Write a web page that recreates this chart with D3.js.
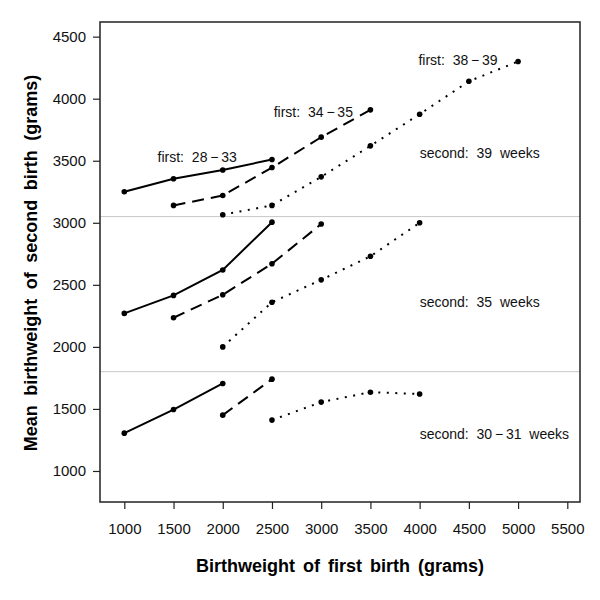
<!DOCTYPE html>
<html><head><meta charset="utf-8">
<script src="https://cdn.jsdelivr.net/npm/d3@7"></script>
<style>body{margin:0;background:#fff}svg{display:block}text{font-family:"Liberation Sans",Arial,Helvetica,sans-serif}</style>
</head><body><svg id="c" width="600" height="600"></svg>
<script>
// Data (grams)
const xTicks = [1000,1500,2000,2500,3000,3500,4000,4500,5000,5500];
const yTicks = [1000,1500,2000,2500,3000,3500,4000,4500];
const firstGroups = ["first: 28\u2009\u2212\u200933","first: 34\u2009\u2212\u200935","first: 38\u2009\u2212\u200939"];
const dashStyles = ["none","12,7","2,6.5"];
// second: 39 weeks
const s39_f2833_x = [1000,1500,2000,2500];
const s39_f2833_y = [3250,3355,3425,3510];
const s39_f3435_x = [1500,2000,2500,3000,3500];
const s39_f3435_y = [3140,3220,3445,3690,3910];
const s39_f3839_x = [2000,2500,3000,3500,4000,4500,5000];
const s39_f3839_y = [3065,3140,3370,3620,3875,4140,4300];
// second: 35 weeks
const s35_f2833_x = [1000,1500,2000,2500];
const s35_f2833_y = [2270,2415,2620,3005];
const s35_f3435_x = [1500,2000,2500,3000];
const s35_f3435_y = [2235,2420,2670,2990];
const s35_f3839_x = [2000,2500,3000,3500,4000];
const s35_f3839_y = [2000,2360,2540,2730,3000];
// second: 30-31 weeks
const s30_f2833_x = [1000,1500,2000];
const s30_f2833_y = [1305,1495,1705];
const s30_f3435_x = [2000,2500];
const s30_f3435_y = [1450,1740];
const s30_f3839_x = [2500,3000,3500,4000];
const s30_f3839_y = [1410,1555,1635,1620];
const separators = [3050,1800];
const secondLabels = ["second: 39 weeks","second: 35 weeks","second: 30\u2009\u2212\u200931 weeks"];
const secondLabelPos = [[4000,3525],[4000,2322],[4000,1258]];
const firstLabelPos = [[1740,3490],[2920,3855],[4390,4272]];

const series = [
  {x:s39_f2833_x,y:s39_f2833_y,g:0},{x:s39_f3435_x,y:s39_f3435_y,g:1},{x:s39_f3839_x,y:s39_f3839_y,g:2},
  {x:s35_f2833_x,y:s35_f2833_y,g:0},{x:s35_f3435_x,y:s35_f3435_y,g:1},{x:s35_f3839_x,y:s35_f3839_y,g:2},
  {x:s30_f2833_x,y:s30_f2833_y,g:0},{x:s30_f3435_x,y:s30_f3435_y,g:1},{x:s30_f3839_x,y:s30_f3839_y,g:2}
];

const svg = d3.select("#c");
const L=100,R=580,T=22,B=502;
const x = d3.scaleLinear().domain([753,5629]).range([L,R]);
const y = d3.scaleLinear().domain([750,4618]).range([B,T]);

// separators
svg.selectAll("line.sep").data(separators).join("line")
  .attr("x1",L).attr("x2",R).attr("y1",d=>y(d)).attr("y2",d=>y(d))
  .attr("stroke","#c8c8c8").attr("stroke-width",1);

// axes
const xAxis = svg.append("g").attr("transform",`translate(0,${B})`)
  .call(d3.axisBottom(x).tickValues(xTicks).tickSize(7).tickPadding(14.5).tickFormat(d3.format("d")));
const yAxis = svg.append("g").attr("transform",`translate(${L},0)`)
  .call(d3.axisLeft(y).tickValues(yTicks).tickSize(7).tickPadding(7).tickFormat(d3.format("d")));
[xAxis,yAxis].forEach(a=>{
  a.select(".domain").remove();
  a.selectAll(".tick line").attr("stroke","#222").attr("stroke-width",1.2);
  a.selectAll(".tick text").attr("font-size",15).attr("fill","#111")
   .style("font-family",'"Liberation Sans",Arial,sans-serif');
});

// frame
svg.append("rect").attr("x",L).attr("y",T).attr("width",R-L).attr("height",B-T)
  .attr("fill","none").attr("stroke","#222").attr("stroke-width",1.5);

// lines
const line = d3.line().x(d=>x(d[0])).y(d=>y(d[1]));
series.forEach(s=>{
  const pts = s.x.map((v,i)=>[v,s.y[i]]);
  svg.append("path").datum(pts).attr("d",line).attr("fill","none")
    .attr("stroke","#000").attr("stroke-width",2)
    .attr("stroke-dasharray",dashStyles[s.g]);
  svg.append("g").selectAll("circle").data(pts).join("circle")
    .attr("cx",d=>x(d[0])).attr("cy",d=>y(d[1])).attr("r",2.8).attr("fill","#000");
});

// labels
svg.selectAll("text.fl").data(firstGroups).join("text").attr("class","fl")
  .attr("x",(d,i)=>x(firstLabelPos[i][0])).attr("y",(d,i)=>y(firstLabelPos[i][1]))
  .attr("text-anchor","middle").attr("font-size",14).attr("fill","#111")
  .style("word-spacing","4px").text(d=>d);
svg.selectAll("text.sl").data(secondLabels).join("text").attr("class","sl")
  .attr("x",(d,i)=>x(secondLabelPos[i][0])).attr("y",(d,i)=>y(secondLabelPos[i][1]))
  .attr("text-anchor","start").attr("font-size",14).attr("fill","#111")
  .style("word-spacing","4px").text(d=>d);

// titles
svg.append("text").attr("x",340).attr("y",572).attr("text-anchor","middle")
  .attr("font-size",18).attr("font-weight","bold").style("word-spacing","3px")
  .text("Birthweight of first birth (grams)");
svg.append("text").attr("transform","translate(37,263) rotate(-90)").attr("text-anchor","middle")
  .attr("font-size",18).attr("font-weight","bold").style("word-spacing","4.5px")
  .text("Mean birthweight of second birth (grams)");
</script></body></html>
